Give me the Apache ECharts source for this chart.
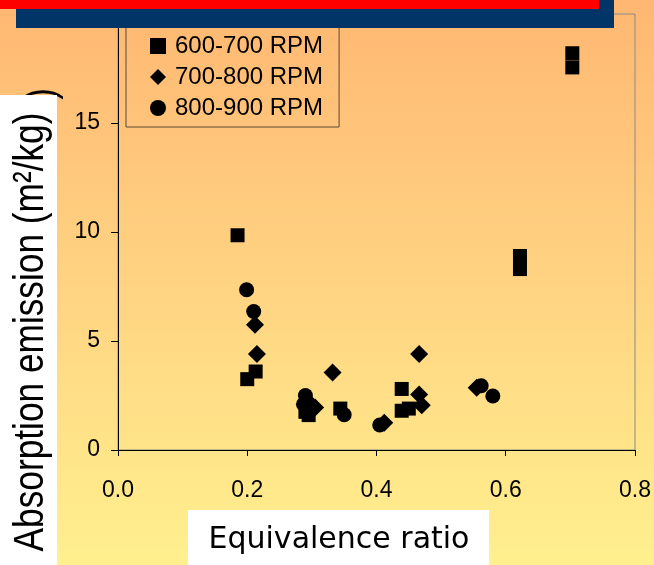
<!DOCTYPE html>
<html>
<head>
<meta charset="utf-8">
<script src="https://cdn.jsdelivr.net/npm/echarts@6/dist/echarts.min.js"></script>
<style>
  html, body { margin: 0; padding: 0; }
  #main { width: 654px; height: 565px; }
</style>
</head>
<body>
<div id="main"></div>
<script>
// 数据 (equivalence ratio / absorption emission)
var rpm600x = [0.185, 0.200, 0.213, 0.290, 0.295, 0.344, 0.439, 0.439, 0.450, 0.622, 0.622, 0.703, 0.703];
var rpm600y = [9.85, 3.25, 3.60, 1.75, 1.60, 1.90, 2.80, 1.80, 1.90, 8.90, 8.30, 18.20, 17.55];

var rpm700x = [0.212, 0.215, 0.305, 0.295, 0.332, 0.412, 0.466, 0.466, 0.470, 0.555];
var rpm700y = [5.75, 4.40, 1.95, 2.20, 3.55, 1.25, 4.40, 2.55, 2.05, 2.85];

var rpm800x = [0.199, 0.210, 0.290, 0.287, 0.295, 0.350, 0.405, 0.562, 0.580];
var rpm800y = [7.35, 6.35, 2.50, 2.10, 1.85, 1.62, 1.15, 2.95, 2.48];

var seriesNames = ['600-700 RPM', '700-800 RPM', '800-900 RPM'];
var xTicks = [0, 0.2, 0.4, 0.6, 0.8];
var yTicks = [0, 5, 10, 15, 20];

function pairs(xs, ys) {
  var out = [];
  for (var i = 0; i < xs.length; i++) out.push([xs[i], ys[i]]);
  return out;
}

var myChart = echarts.init(document.getElementById('main'));

myChart.setOption({
  animation: false,
  backgroundColor: {
    type: 'linear', x: 0, y: 0, x2: 0, y2: 1,
    colorStops: [
      { offset: 0, color: '#ffb772' },
      { offset: 0.5, color: '#ffd382' },
      { offset: 1, color: '#fff08e' }
    ]
  },
  grid: {
    left: 118, right: 19, top: 14, bottom: 115,
    show: true, borderColor: '#8a8a8a', borderWidth: 1,
    backgroundColor: 'transparent'
  },
  legend: {
    orient: 'vertical',
    left: 126, top: 27,
    padding: [7, 16, 7, 24],
    itemGap: 7,
    itemWidth: 16, itemHeight: 16,
    borderColor: '#5a4a35', borderWidth: 1,
    textStyle: { fontFamily: 'Liberation Sans', fontSize: 24, color: '#000', padding: [0, 0, 0, 4] },
    data: seriesNames
  },
  xAxis: {
    type: 'value',
    min: xTicks[0], max: xTicks[xTicks.length - 1], interval: 0.2,
    axisLine: { lineStyle: { color: '#000', width: 1 } },
    axisTick: { inside: false, length: 6, lineStyle: { color: '#000' } },
    splitLine: { show: false },
    axisLabel: {
      margin: 29, color: '#000', fontFamily: 'Liberation Sans', fontSize: 23,
      formatter: function (v) { return v.toFixed(1); }
    }
  },
  yAxis: {
    type: 'value',
    min: yTicks[0], max: yTicks[yTicks.length - 1], interval: 5,
    axisLine: { lineStyle: { color: '#000', width: 1 } },
    axisTick: { inside: false, length: 7, lineStyle: { color: '#000' } },
    splitLine: { show: false },
    axisLabel: { margin: 18, color: '#000', fontFamily: 'Liberation Sans', fontSize: 23 }
  },
  series: [
    {
      name: seriesNames[0], type: 'scatter', symbol: 'rect', symbolSize: 14,
      itemStyle: { color: '#000', opacity: 1 },
      data: pairs(rpm600x, rpm600y)
    },
    {
      name: seriesNames[1], type: 'scatter', symbol: 'diamond', symbolSize: 18,
      itemStyle: { color: '#000', opacity: 1 },
      data: pairs(rpm700x, rpm700y)
    },
    {
      name: seriesNames[2], type: 'scatter', symbol: 'circle', symbolSize: 15,
      itemStyle: { color: '#000', opacity: 1 },
      data: pairs(rpm800x, rpm800y)
    }
  ],
  graphic: [
    { type: 'text', z: 90, x: 42, y: 94, rotation: Math.PI / 2, scaleX: 0.82,
      style: { text: ')', font: '43px "Liberation Sans"', fill: '#000', align: 'center', verticalAlign: 'middle' } },
    { type: 'rect', z: 100, shape: { x: 16, y: 0, width: 598, height: 28 }, style: { fill: '#023567' } },
    { type: 'rect', z: 101, shape: { x: 0, y: 0, width: 599, height: 9 }, style: { fill: '#ff0000' } },
    { type: 'rect', z: 100, shape: { x: 0, y: 95, width: 57, height: 470 }, style: { fill: '#ffffff' } },
    { type: 'rect', z: 100, shape: { x: 188, y: 510, width: 301, height: 55 }, style: { fill: '#ffffff' } },
    { type: 'text', z: 102, x: 31, y: 332, rotation: Math.PI / 2, scaleX: 0.82,
      style: { text: 'Absorption emission (m²/kg)', font: '43px "Liberation Sans"',
        fill: '#000', align: 'center', verticalAlign: 'middle' } },
    { type: 'text', z: 102, x: 339, y: 540,
      style: { text: 'Equivalence ratio', font: '30px "DejaVu Sans"',
        fill: '#000', align: 'center', verticalAlign: 'middle' } }
  ]
});
</script>
</body>
</html>
